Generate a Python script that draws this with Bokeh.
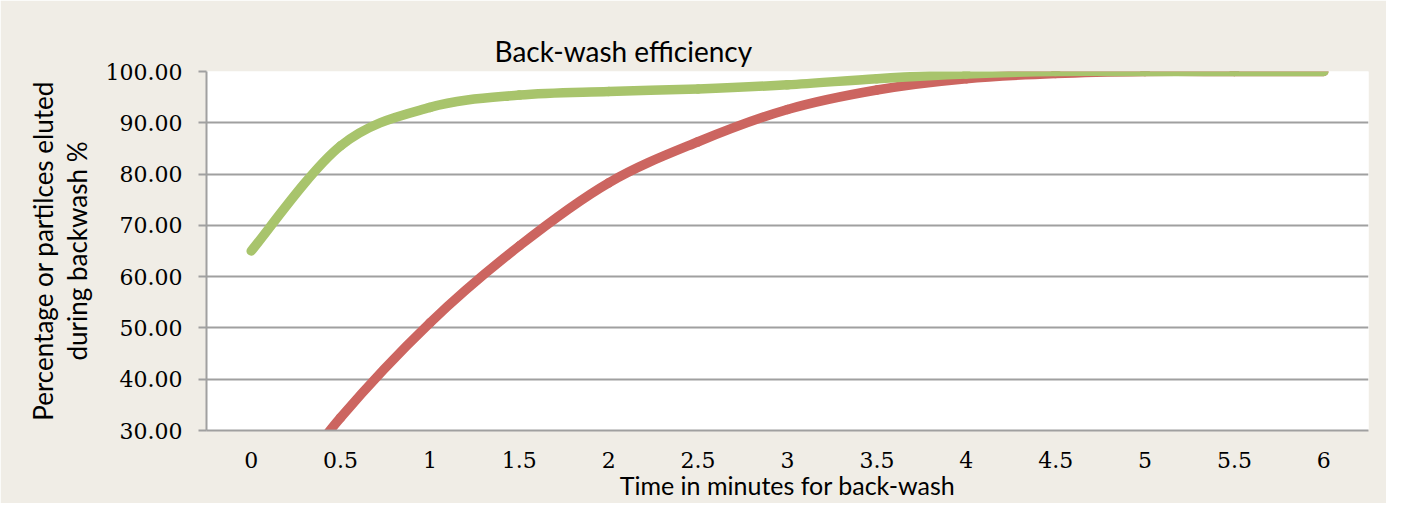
from bokeh.plotting import figure
from bokeh.models import FixedTicker, Range1d, Title
from bokeh.embed import file_html
from bokeh.resources import INLINE

# ---- data ----
minutes = [0, 0.5, 1, 1.5, 2, 2.5, 3, 3.5, 4, 4.5, 5, 5.5, 6]
x_tick_labels = ["0", "0.5", "1", "1.5", "2", "2.5", "3", "3.5", "4", "4.5", "5", "5.5", "6"]
green_series = [65.0, 85.5, 93.0, 95.4, 96.1, 96.6, 97.4, 98.6, 99.5, 100.0, 100.0, 100.0, 100.0]
red_series = [10.0, 32.5, 51.0, 66.0, 78.3, 86.3, 92.6, 96.4, 98.6, 99.6, 100.0, 100.0, 100.0]
y_ticks = [30, 40, 50, 60, 70, 80, 90, 100]
y_tick_labels = ["30.00", "40.00", "50.00", "60.00", "70.00", "80.00", "90.00", "100.00"]

title_text = "Back-wash efficiency"
x_title = "Time in minutes for back-wash"
y_title = "Percentage or partilces eluted\nduring backwash %"

BG = "#F0EDE6"
GRID = "#A0A0A0"
GREEN = "#A8C46C"
RED = "#CC6560"


def smooth_segments(xs, ys):
    """Bezier control points (Excel-like smoothing) derived from the data."""
    n = len(xs)
    d = dict(x0=[], y0=[], x1=[], y1=[], cx0=[], cy0=[], cx1=[], cy1=[])
    for i in range(n - 1):
        xm, ym = (xs[i - 1], ys[i - 1]) if i > 0 else (xs[i], ys[i])
        xp, yp = (xs[i + 2], ys[i + 2]) if i + 2 < n else (xs[i + 1], ys[i + 1])
        d["x0"].append(xs[i]); d["y0"].append(ys[i])
        d["x1"].append(xs[i + 1]); d["y1"].append(ys[i + 1])
        d["cx0"].append(xs[i] + (xs[i + 1] - xm) / 6.0)
        d["cy0"].append(ys[i] + (ys[i + 1] - ym) / 6.0)
        d["cx1"].append(xs[i + 1] - (xp - xs[i]) / 6.0)
        d["cy1"].append(ys[i + 1] - (yp - ys[i]) / 6.0)
    return d


p = figure(width=1386, height=503, output_backend="svg", toolbar_location=None,
           x_range=Range1d(-0.25, 6.25), y_range=Range1d(30, 100))
p.min_border_left = 206
p.min_border_right = 18
p.min_border_top = 71
p.min_border_bottom = 73
p.background_fill_color = "white"
p.border_fill_color = BG
p.outline_line_color = None

p.add_layout(Title(text=title_text, align="left", offset=288, standoff=7,
                   text_font="Lato", text_font_size="28px", text_font_style="normal",
                   text_color="black"), "above")

# lines (red below green)
for series, col in ((red_series, RED), (green_series, GREEN)):
    segs = smooth_segments(minutes, series)
    p.bezier(x0=segs["x0"], y0=segs["y0"], x1=segs["x1"], y1=segs["y1"],
             cx0=segs["cx0"], cy0=segs["cy0"], cx1=segs["cx1"], cy1=segs["cy1"],
             line_color=col, line_width=9.5, line_cap="round")

# grid
p.xgrid.visible = False
p.ygrid.ticker = FixedTicker(ticks=y_ticks)
p.ygrid.grid_line_color = GRID
p.ygrid.grid_line_width = 2

# y axis
ya = p.yaxis[0]
ya.ticker = FixedTicker(ticks=y_ticks)
ya.major_label_overrides = {t: l for t, l in zip(y_ticks, y_tick_labels)}
ya.axis_line_color = GRID
ya.axis_line_width = 2
ya.major_tick_line_color = GRID
ya.major_tick_line_width = 2
ya.major_tick_out = 8
ya.major_tick_in = 0
ya.minor_tick_line_color = None
ya.major_label_standoff = 16
ya.major_label_text_font = "DejaVu Serif"
ya.major_label_text_font_size = "22px"
ya.major_label_text_color = "black"
ya.axis_label = y_title
ya.axis_label_text_font = "Lato"
ya.axis_label_text_font_size = "26px"
ya.axis_label_text_font_style = "normal"
ya.axis_label_text_color = "black"
ya.axis_label_standoff = 10
ya.axis_label_text_line_height = 1.05

# x axis
xa = p.xaxis[0]
xa.ticker = FixedTicker(ticks=minutes)
xa.major_label_overrides = {t: l for t, l in zip(minutes, x_tick_labels)}
xa.axis_line_color = GRID
xa.axis_line_width = 2
xa.major_tick_line_color = None
xa.major_tick_out = 0
xa.major_tick_in = 0
xa.minor_tick_line_color = None
xa.major_label_standoff = 21
xa.major_label_text_font = "DejaVu Serif"
xa.major_label_text_font_size = "22px"
xa.major_label_text_color = "black"
xa.axis_label = x_title
xa.axis_label_text_font = "Lato"
xa.axis_label_text_font_size = "25px"
xa.axis_label_text_font_style = "normal"
xa.axis_label_text_color = "black"
xa.axis_label_standoff = -1

open("out.html", "w").write(file_html(p, INLINE))
